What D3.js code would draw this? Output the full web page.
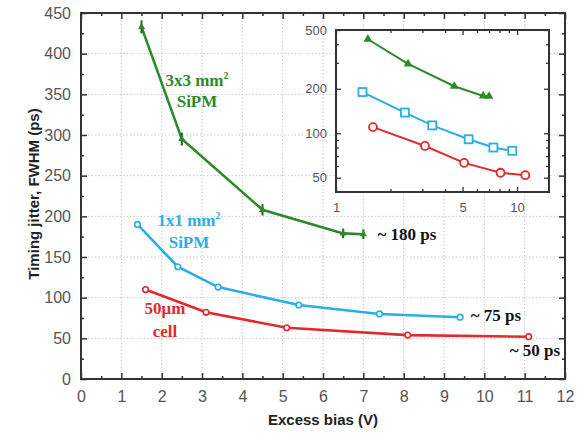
<!DOCTYPE html>
<html>
<head>
<meta charset="utf-8">
<script src="https://cdn.jsdelivr.net/npm/d3@7"></script>
<style>
  body { margin: 0; background: #fff; }
  svg { display: block; }
  .tick text { font-family: "Liberation Sans", Arial, sans-serif; fill: #555; }
  .domain { stroke: none; }
</style>
</head>
<body>
<svg id="chart" width="580" height="433"></svg>
<script>
// data
const bias3x3 = [1.5, 2.5, 4.5, 6.5, 7.0];
const jitter3x3 = [433, 295, 208, 179, 178];
const err3x3 = [8, 8, 7, 6, 6];
const bias1x1 = [1.4, 2.4, 3.4, 5.4, 7.4, 9.4];
const jitter1x1 = [190, 138, 113, 91, 80, 76];
const biasCell = [1.6, 3.1, 5.1, 8.1, 11.1];
const jitterCell = [110, 82, 63, 54, 52];

const xTicks = d3.range(0, 13, 1);
const yTicks = d3.range(0, 451, 50);
const insetXTicks = [1, 5, 10];
const insetYTicks = [50, 100, 200, 500];

const green = "#2b8a2b", blue = "#29aee6", red = "#e02a2f";

const series = [
  { name: "3x3", x: bias3x3, y: jitter3x3, err: err3x3, color: green, mark: "tri" },
  { name: "1x1", x: bias1x1, y: jitter1x1, color: blue, mark: "sq" },
  { name: "cell", x: biasCell, y: jitterCell, color: red, mark: "circ" }
];
const pts = s => s.x.map((v, i) => ({ x: v, y: s.y[i], e: s.err ? s.err[i] : 0 }));

const svg = d3.select("#chart");

// main plot
const x = d3.scaleLinear().domain([0, 12]).range([81, 565]);
const y = d3.scaleLinear().domain([0, 450]).range([379, 13]);

// grid
svg.append("g").selectAll("line").data(xTicks.slice(1, -1)).join("line")
  .attr("x1", d => x(d)).attr("x2", d => x(d)).attr("y1", y(0)).attr("y2", y(450))
  .attr("stroke", "#c8c8c8").attr("stroke-dasharray", "1.5,2");
svg.append("g").selectAll("line").data(yTicks.slice(1, -1)).join("line")
  .attr("x1", x(0)).attr("x2", x(12)).attr("y1", d => y(d)).attr("y2", d => y(d))
  .attr("stroke", "#c8c8c8").attr("stroke-dasharray", "1.5,2");

// axes with inward ticks
const minorX = d3.range(0.5, 12, 1);
const minorY = d3.range(25, 450, 50);
function axes(g, sx, sy, maj, majY, minX, minY, fmt, fs, maxlen, minlen) {
  const [x0, x1] = sx.range(), [y0, y1] = sy.range();
  g.append("g").attr("transform", `translate(0,${y0})`)
    .call(d3.axisBottom(sx).tickValues(maj).tickSize(-maxlen).tickPadding(maxlen + 6).tickFormat(fmt))
    .call(a => a.selectAll("text").attr("font-size", fs));
  g.append("g").attr("transform", `translate(0,${y0})`)
    .call(d3.axisBottom(sx).tickValues(minX).tickSize(-minlen).tickFormat(""));
  g.append("g").attr("transform", `translate(0,${y1})`)
    .call(d3.axisTop(sx).tickValues(maj).tickSize(-maxlen).tickFormat(""));
  g.append("g").attr("transform", `translate(0,${y1})`)
    .call(d3.axisTop(sx).tickValues(minX).tickSize(-minlen).tickFormat(""));
  g.append("g").attr("transform", `translate(${x0},0)`)
    .call(d3.axisLeft(sy).tickValues(majY).tickSize(-maxlen).tickPadding(maxlen + 4).tickFormat(fmt))
    .call(a => a.selectAll("text").attr("font-size", fs));
  g.append("g").attr("transform", `translate(${x0},0)`)
    .call(d3.axisLeft(sy).tickValues(minY).tickSize(-minlen).tickFormat(""));
  g.append("g").attr("transform", `translate(${x1},0)`)
    .call(d3.axisRight(sy).tickValues(majY).tickSize(-maxlen).tickFormat(""));
  g.append("g").attr("transform", `translate(${x1},0)`)
    .call(d3.axisRight(sy).tickValues(minY).tickSize(-minlen).tickFormat(""));
  g.selectAll(".tick line").attr("stroke", "#333").attr("stroke-width", 1.5);
  g.append("rect").attr("x", x0).attr("y", y1).attr("width", x1 - x0).attr("height", y0 - y1)
    .attr("fill", "none").attr("stroke", "#333").attr("stroke-width", 2);
}
axes(svg.append("g"), x, y, xTicks, yTicks, minorX, minorY, d3.format("d"), 16, 6, 3);

const line = d3.line().x(d => x(d.x)).y(d => y(d.y));
series.forEach(s => {
  const g = svg.append("g");
  g.append("path").datum(pts(s)).attr("d", line)
    .attr("fill", "none").attr("stroke", s.color).attr("stroke-width", 2.6);
  if (s.err) {
    g.selectAll(".eb").data(pts(s)).join("line")
      .attr("x1", d => x(d.x)).attr("x2", d => x(d.x))
      .attr("y1", d => y(d.y + d.e)).attr("y2", d => y(d.y - d.e))
      .attr("stroke", "#1f5f1f").attr("stroke-width", 2);
    g.selectAll(".cap").data(pts(s)).join("path")
      .attr("d", d => d3.symbol(d3.symbolTriangle, 22)())
      .attr("transform", d => `translate(${x(d.x)},${y(d.y)})`)
      .attr("fill", s.color);
  } else {
    g.selectAll("circle").data(pts(s)).join("circle")
      .attr("cx", d => x(d.x)).attr("cy", d => y(d.y)).attr("r", 2.8)
      .attr("fill", "#fff").attr("stroke", s.color).attr("stroke-width", 1.6);
  }
});

// labels in plot
const serif = "'Liberation Serif', 'Times New Roman', serif";
function label(t, px, py, color, size) {
  const el = svg.append("text").attr("x", px).attr("y", py).attr("fill", color)
    .attr("font-family", serif).attr("font-weight", "bold").attr("font-size", size || 17)
    .attr("text-anchor", "middle");
  el.html(t);
  return el;
}
label("3x3 mm<tspan dy='-7' font-size='10'>2</tspan>", 197, 86, green);
label("SiPM", 197, 107, green);
label("1x1 mm<tspan dy='-7' font-size='10'>2</tspan>", 189, 226, blue);
label("SiPM", 189, 248, blue);
label("50μm", 165, 314, red);
label("cell", 165, 337, red);
label("~ 180 ps", 407, 240, "#111");
label("~ 75 ps", 496, 321, "#111");
label("~ 50 ps", 535, 356, "#111");

// axis titles
svg.append("text").attr("x", 323).attr("y", 425).attr("text-anchor", "middle")
  .attr("font-family", "'Liberation Sans', Arial, sans-serif").attr("font-weight", "bold")
  .attr("font-size", 15).attr("fill", "#222").text("Excess bias (V)");
svg.append("text").attr("transform", "translate(39,194) rotate(-90)").attr("text-anchor", "middle")
  .attr("font-family", "'Liberation Sans', Arial, sans-serif").attr("font-weight", "bold")
  .attr("font-size", 15).attr("fill", "#222").text("Timing jitter, FWHM (ps)");

// inset (log-log)
const xi = d3.scaleLog().domain([1, 15]).range([336, 549]);
const yi = d3.scaleLog().domain([40, 500]).range([192, 30]);
const inset = svg.append("g");
inset.append("rect").attr("x", 336).attr("y", 30).attr("width", 213).attr("height", 162).attr("fill", "#fff");
const minorXi = [2, 3, 4, 6, 7, 8, 9];
const minorYi = [60, 70, 80, 90, 300, 400];
axes(inset, xi, yi, insetXTicks, insetYTicks, minorXi, minorYi, d3.format("d"), 13, 5, 3);
inset.selectAll(".tick line").attr("stroke-width", 1.3);

const linei = d3.line().x(d => xi(d.x)).y(d => yi(d.y));
series.forEach(s => {
  const g = inset.append("g");
  g.append("path").datum(pts(s)).attr("d", linei)
    .attr("fill", "none").attr("stroke", s.color).attr("stroke-width", 2);
  const p = pts(s);
  if (s.mark === "tri") {
    g.selectAll("path.m").data(p).join("path").attr("class", "m")
      .attr("d", d3.symbol(d3.symbolTriangle, 34)())
      .attr("transform", d => `translate(${xi(d.x)},${yi(d.y)})`)
      .attr("fill", s.color);
  } else if (s.mark === "sq") {
    g.selectAll("rect").data(p).join("rect")
      .attr("x", d => xi(d.x) - 4).attr("y", d => yi(d.y) - 4).attr("width", 8).attr("height", 8)
      .attr("fill", "#fff").attr("stroke", s.color).attr("stroke-width", 1.8);
  } else {
    g.selectAll("circle").data(p).join("circle")
      .attr("cx", d => xi(d.x)).attr("cy", d => yi(d.y)).attr("r", 4)
      .attr("fill", "#fff").attr("stroke", s.color).attr("stroke-width", 1.8);
  }
});
</script>
</body>
</html>
